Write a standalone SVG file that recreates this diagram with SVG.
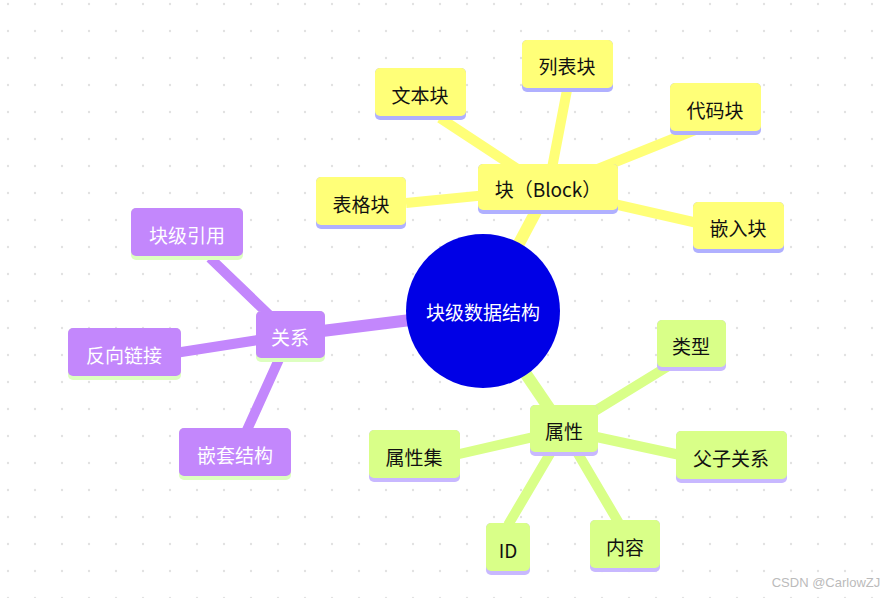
<svg xmlns="http://www.w3.org/2000/svg" width="894" height="598" viewBox="0 0 894 598">
<defs>
<pattern id="dots" width="27" height="27" patternUnits="userSpaceOnUse" x="-6" y="-10"><circle cx="14" cy="14" r="1.2" fill="#e2e2e2"/></pattern>
<style>
text{font-family:"Noto Sans CJK SC","Noto Sans",sans-serif;font-size:19px;text-anchor:middle;dominant-baseline:central}
.y{fill:#ffff78}.p{fill:#c387fc}.g{fill:#d9ff88}
.yb{fill:#b0b0ff}.pb{fill:#ddffc0}.gb{fill:#c8b8ff}
.dk{fill:#111}.wt{fill:#fff}
.ly{stroke:#ffff78}.lp{stroke:#c387fc}.lg{stroke:#d9ff88}
</style>
</defs>
<rect width="894" height="598" fill="#fff"/>
<rect width="894" height="598" fill="url(#dots)"/>
<g id="connectors" fill="none" stroke-linecap="butt">
<path class="ly" stroke-width="12" d="M483 311L548 189"/>
<path class="ly" stroke-width="10" d="M548 189L440 118M548 189L567 90M548 189L700 128M548 189L406 203M548 189L715 227"/>
<path class="lp" stroke-width="12" d="M483 311L290 335"/>
<path class="lp" stroke-width="10" d="M290 335L210 258M290 335L175 353M290 335L247 430"/>
<path class="lg" stroke-width="12" d="M483 311L564 430"/>
<path class="lg" stroke-width="10" d="M564 430L670 365M564 430L680 455M564 430L455 455M564 430L620 525M564 430L508 525"/>
</g>
<g id="root"><circle cx="483" cy="311" r="77" fill="#0000e6"/><text x="483" y="311" class="wt">块级数据结构</text></g>
<g id="block"><rect x="478" y="164" width="140" height="50" rx="5" class="yb"/><rect x="478" y="164" width="140" height="46" rx="5" class="y"/><text x="548" y="188" class="dk">块（Block）</text></g>
<g id="wenben"><rect x="375" y="68" width="91" height="52" rx="5" class="yb"/><rect x="375" y="68" width="91" height="48" rx="5" class="y"/><text x="420" y="94" class="dk">文本块</text></g>
<g id="liebiao"><rect x="522" y="40" width="91" height="52" rx="5" class="yb"/><rect x="522" y="40" width="91" height="48" rx="5" class="y"/><text x="567" y="65" class="dk">列表块</text></g>
<g id="daima"><rect x="670" y="83" width="91" height="52" rx="5" class="yb"/><rect x="670" y="83" width="91" height="48" rx="5" class="y"/><text x="715" y="109" class="dk">代码块</text></g>
<g id="biaoge"><rect x="316" y="177" width="90" height="52" rx="5" class="yb"/><rect x="316" y="177" width="90" height="48" rx="5" class="y"/><text x="361" y="203" class="dk">表格块</text></g>
<g id="qianru"><rect x="693" y="202" width="91" height="51" rx="5" class="yb"/><rect x="693" y="202" width="91" height="47" rx="5" class="y"/><text x="738" y="227" class="dk">嵌入块</text></g>
<g id="guanxi"><rect x="256" y="311" width="69" height="51" rx="5" class="pb"/><rect x="256" y="311" width="69" height="47" rx="5" class="p"/><text x="290" y="336" class="wt">关系</text></g>
<g id="yinyong"><rect x="131" y="208" width="112" height="52" rx="5" class="pb"/><rect x="131" y="208" width="112" height="48" rx="5" class="p"/><text x="187" y="234" class="wt">块级引用</text></g>
<g id="fanxiang"><rect x="68" y="328" width="113" height="52" rx="5" class="pb"/><rect x="68" y="328" width="113" height="48" rx="5" class="p"/><text x="124" y="354" class="wt">反向链接</text></g>
<g id="qiantao"><rect x="179" y="428" width="112" height="52" rx="5" class="pb"/><rect x="179" y="428" width="112" height="48" rx="5" class="p"/><text x="235" y="454" class="wt">嵌套结构</text></g>
<g id="shuxing"><rect x="530" y="405" width="68" height="51" rx="5" class="gb"/><rect x="530" y="405" width="68" height="47" rx="5" class="g"/><text x="564" y="430" class="dk">属性</text></g>
<g id="leixing"><rect x="657" y="320" width="69" height="51" rx="5" class="gb"/><rect x="657" y="320" width="69" height="47" rx="5" class="g"/><text x="691" y="345" class="dk">类型</text></g>
<g id="fuzi"><rect x="676" y="431" width="111" height="52" rx="5" class="gb"/><rect x="676" y="431" width="111" height="48" rx="5" class="g"/><text x="731" y="457" class="dk">父子关系</text></g>
<g id="shuxingji"><rect x="369" y="430" width="91" height="52" rx="5" class="gb"/><rect x="369" y="430" width="91" height="48" rx="5" class="g"/><text x="414" y="456" class="dk">属性集</text></g>
<g id="neirong"><rect x="590" y="520" width="70" height="52" rx="5" class="gb"/><rect x="590" y="520" width="70" height="48" rx="5" class="g"/><text x="625" y="546" class="dk">内容</text></g>
<g id="id"><rect x="486" y="523" width="44" height="52" rx="5" class="gb"/><rect x="486" y="523" width="44" height="48" rx="5" class="g"/><text x="508" y="549" class="dk">ID</text></g>
<text x="826" y="582" style="font-family:'Liberation Sans',sans-serif;font-size:13px;fill:#bbb">CSDN @CarlowZJ</text>
</svg>
